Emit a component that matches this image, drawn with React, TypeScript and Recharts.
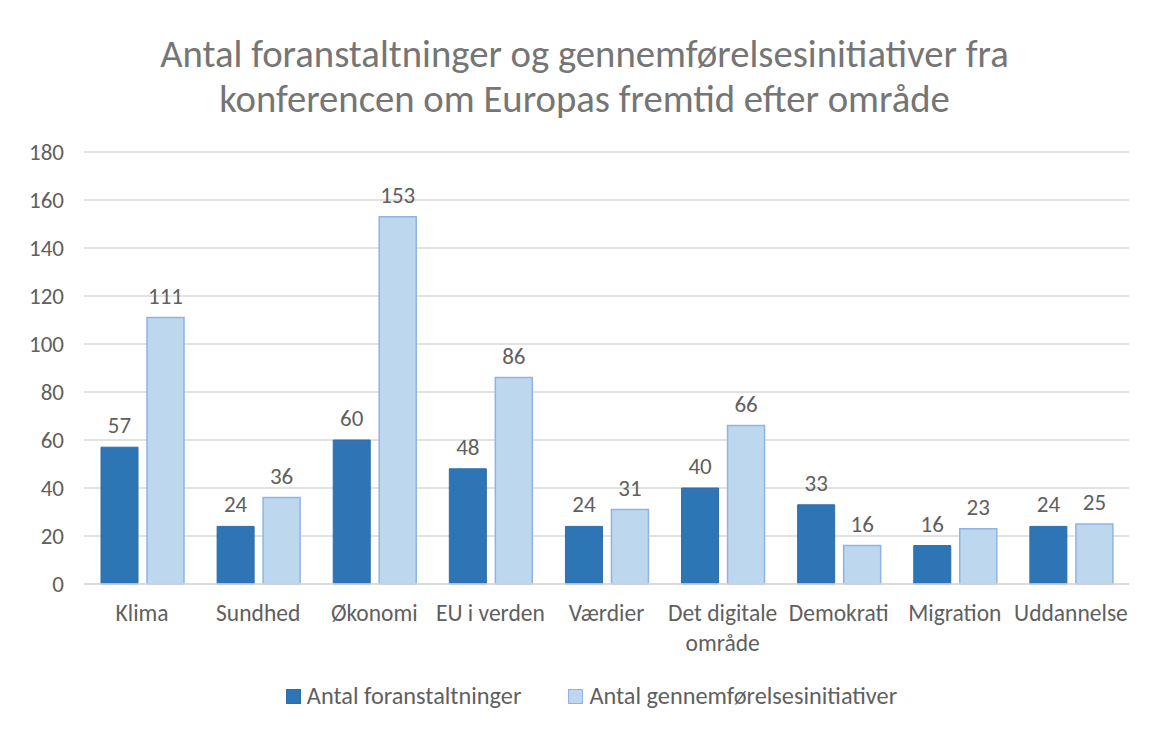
import { BarChart, Bar, XAxis, YAxis, CartesianGrid, LabelList, Legend } from 'recharts';

const categories = ['Klima', 'Sundhed', 'Økonomi', 'EU i verden', 'Værdier', 'Det digitale område', 'Demokrati', 'Migration', 'Uddannelse'];
const foranstaltninger = [57, 24, 60, 48, 24, 40, 33, 16, 24];
const initiativer = [111, 36, 153, 86, 31, 66, 16, 23, 25];
const yTicks = [0, 20, 40, 60, 80, 100, 120, 140, 160, 180];

const data = categories.map((name, i) => ({
  name,
  foranstaltninger: foranstaltninger[i],
  initiativer: initiativer[i],
}));

const FONT = 'Carlito, Calibri, Lato, sans-serif';
const GRAY = '#5f5f5f';

const CategoryTick = (props: any) => {
  const { x, y, payload } = props;
  const label: string = payload.value;
  let lines = [label];
  if (label.length > 14) {
    const cut = label.lastIndexOf(' ');
    lines = [label.slice(0, cut), label.slice(cut + 1)];
  }
  return (
    <text x={x} y={y} textAnchor="middle" fill={GRAY} fontSize={23.5} fontFamily={FONT} fontWeight={300}>
      {lines.map((l, i) => (
        <tspan key={i} x={x} dy={i === 0 ? 29 : 30}>{l}</tspan>
      ))}
    </text>
  );
};

const LegendBox = () => (
  <div style={{ display: 'flex', justifyContent: 'center', gap: 47, paddingLeft: 46, fontFamily: FONT, fontWeight: 300, fontSize: 24.3, color: GRAY }}>
    <span style={{ display: 'flex', alignItems: 'center' }}>
      <span style={{ width: 13, height: 13, background: '#2E75B6', border: '1px solid #2E6DA8', marginRight: 6 }} />
      Antal foranstaltninger
    </span>
    <span style={{ display: 'flex', alignItems: 'center' }}>
      <span style={{ width: 13, height: 13, background: '#BDD7EE', border: '1px solid #8FB4E3', marginRight: 6 }} />
      Antal gennemførelsesinitiativer
    </span>
  </div>
);

export default function App() {
  return (
    <div style={{ position: 'relative', width: 1143, height: 724, borderTop: '1px solid #d9d9d9', borderLeft: '1px solid #d9d9d9', marginTop: -1, marginLeft: -1, background: '#fff' }}>
      <div style={{ position: 'absolute', top: 23, left: 5, width: '100%', textAlign: 'center', fontFamily: FONT, fontWeight: 300, fontSize: 38.7, lineHeight: '45px', color: '#757575' }}>
        Antal foranstaltninger og gennemførelsesinitiativer fra<br />konferencen om Europas fremtid efter område
      </div>
      <BarChart
        width={1141}
        height={722}
        data={data}
        margin={{ top: 144, right: 20, bottom: 0, left: 0 }}
        barSize={37}
        barGap={9}
      >
        <CartesianGrid vertical={false} stroke="#d9d9d9" strokeWidth={1.5} />
        <XAxis
          dataKey="name"
          tick={<CategoryTick />}
          tickLine={false}
          axisLine={{ stroke: '#d9d9d9', strokeWidth: 1.5 }}
          interval={0}
          height={116}
        />
        <YAxis
          ticks={yTicks}
          domain={[0, 180]}
          width={76}
          tickLine={false}
          axisLine={false}
          tick={{ fill: GRAY, fontSize: 23, fontFamily: FONT, fontWeight: 300 }}
          tickMargin={14}
        />
        <Legend content={<LegendBox />} verticalAlign="bottom" wrapperStyle={{ bottom: 19 }} />
        <Bar dataKey="foranstaltninger" name="Antal foranstaltninger" fill="#2E75B6" stroke="#2E6DA8" strokeWidth={1} isAnimationActive={false}>
          <LabelList dataKey="foranstaltninger" position="top" offset={14} fill={GRAY} fontSize={23} fontFamily={FONT} fontWeight={300} />
        </Bar>
        <Bar dataKey="initiativer" name="Antal gennemførelsesinitiativer" fill="#BDD7EE" stroke="#8FB4E3" strokeWidth={1.5} isAnimationActive={false}>
          <LabelList dataKey="initiativer" position="top" offset={14} fill={GRAY} fontSize={23} fontFamily={FONT} fontWeight={300} />
        </Bar>
      </BarChart>
    </div>
  );
}
